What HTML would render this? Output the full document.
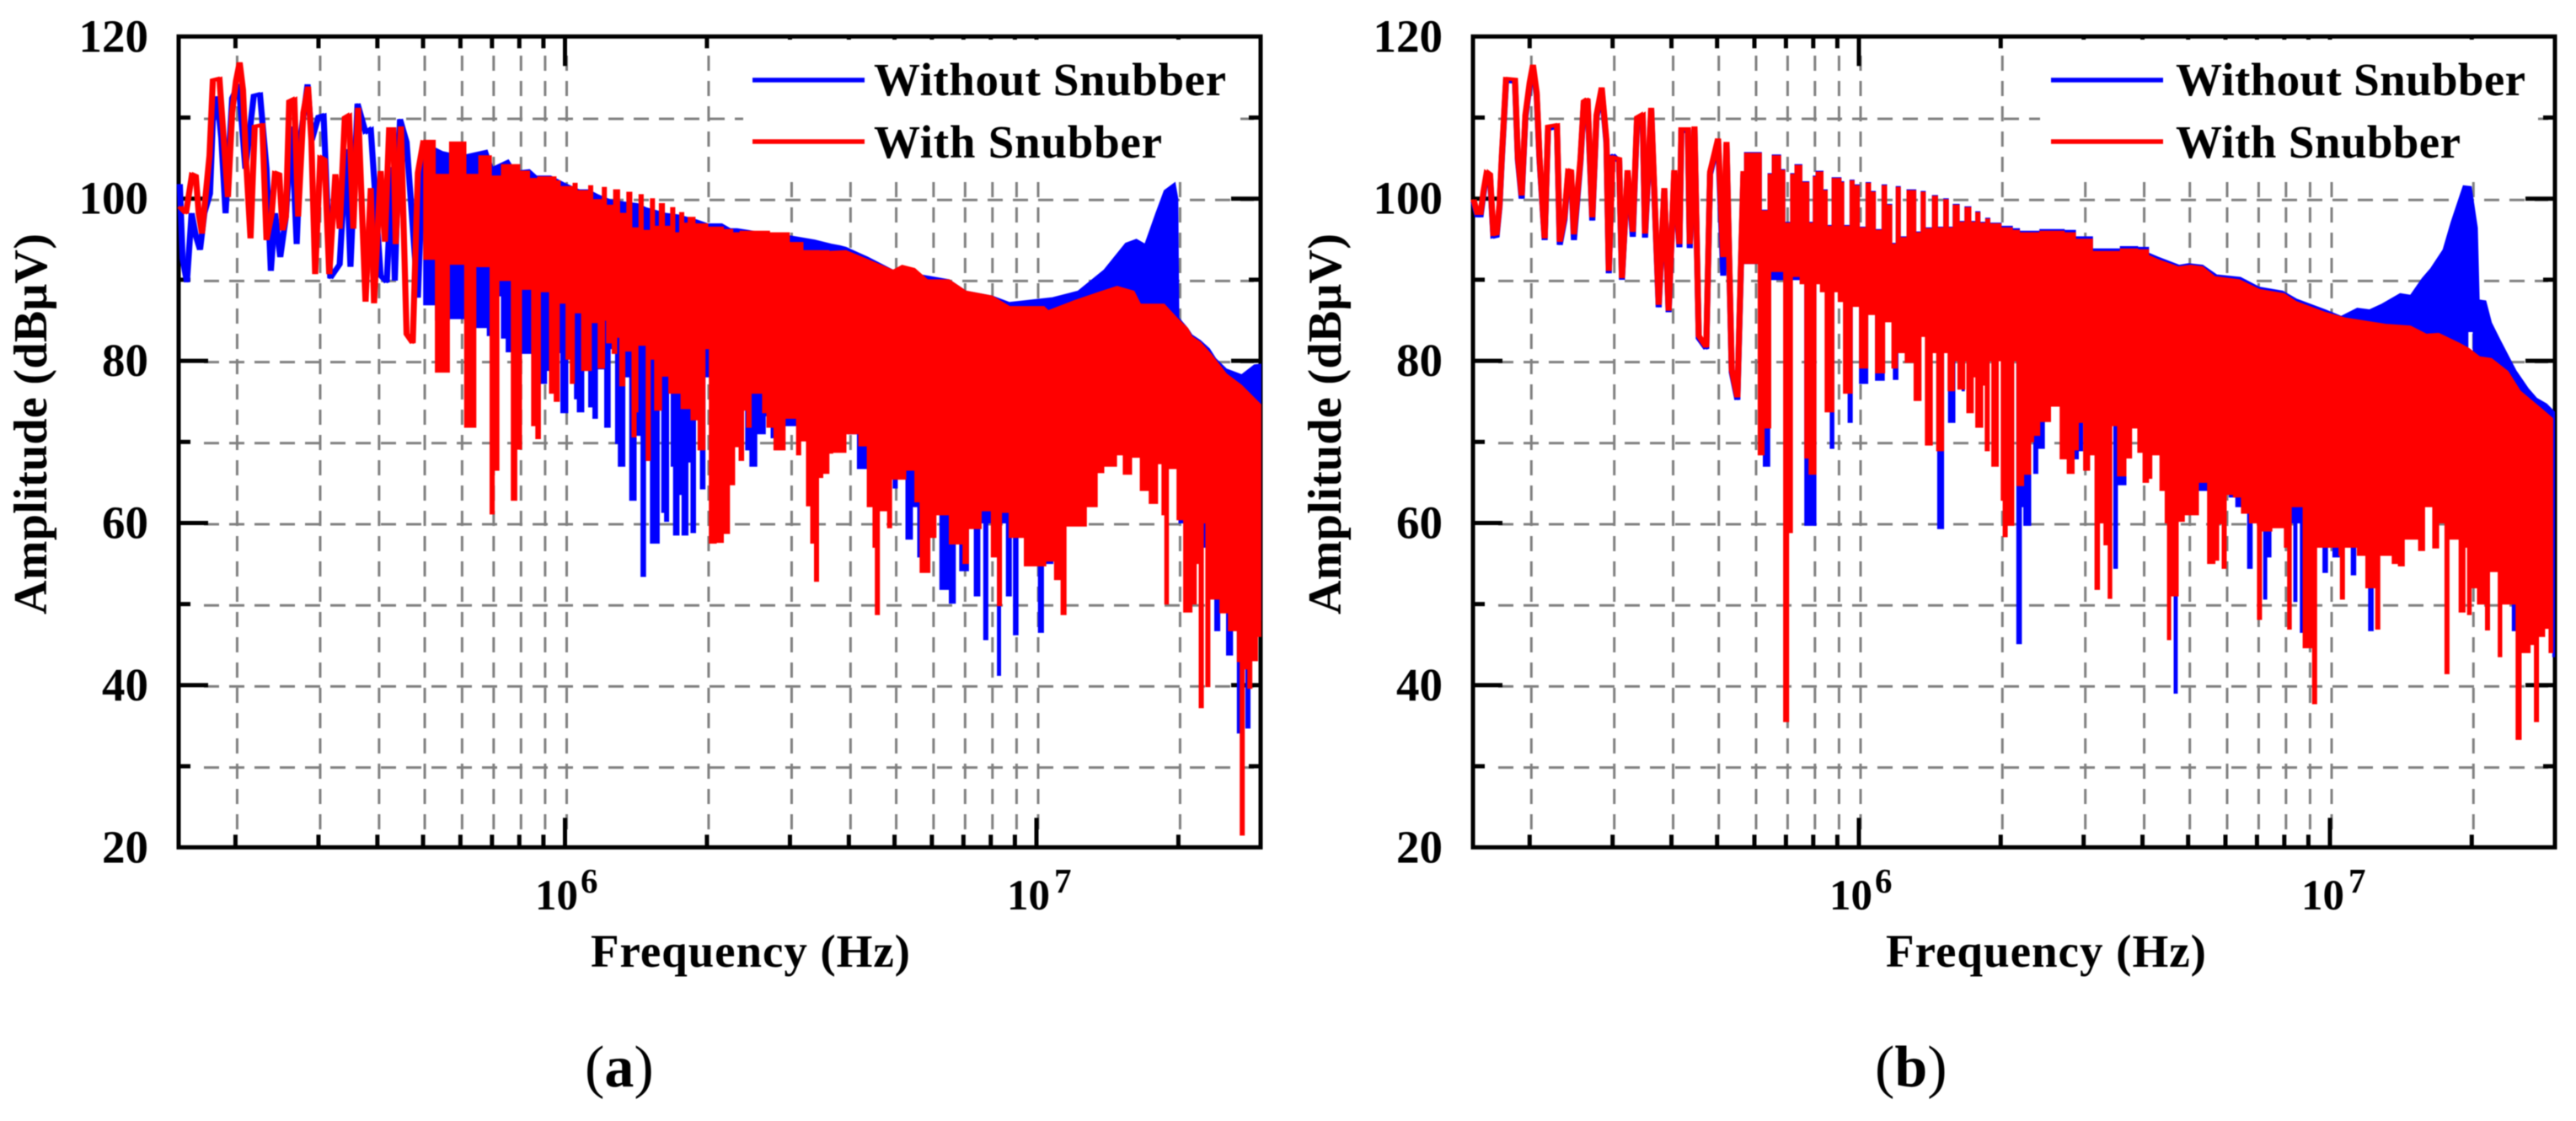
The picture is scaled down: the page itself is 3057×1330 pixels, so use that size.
<!DOCTYPE html>
<html lang="en">
<head>
<meta charset="utf-8">
<title>Amplitude spectra with and without snubber</title>
<style>
html,body{margin:0;padding:0;background:#fff;}
svg{display:block;filter:blur(0.6px);}
text{font-family:"Liberation Serif","Noto Serif CJK SC",serif;fill:#000;}
.b{font-weight:bold;}
</style>
</head>
<body>
<svg id="figure" xmlns="http://www.w3.org/2000/svg" width="3057" height="1330" viewBox="0 0 3057 1330">
  <rect x="0" y="0" width="3057" height="1330" fill="#fff"/>
  <g id="chart-a"></g>
  <g id="chart-b"></g>

  <g>
    <text class="b" x="55" y="503" font-size="56" textLength="452" lengthAdjust="spacing" text-anchor="middle" transform="rotate(-90 55 503)">Amplitude (dBμV)</text>
    <text class="b" x="701" y="1147" font-size="55" textLength="379" lengthAdjust="spacing">Frequency (Hz)</text>
    <text class="b" x="635" y="1079" font-size="51">10<tspan font-size="41" dx="3" dy="-20">6</tspan></text>
    <text class="b" x="1195" y="1079" font-size="51">10<tspan font-size="41" dx="5" dy="-20">7</tspan></text>
    <text x="694" y="1289" font-size="70">(<tspan class="b">a</tspan>)</text>
  </g>
  <g>
    <text class="b" x="1591" y="503" font-size="56" textLength="452" lengthAdjust="spacing" text-anchor="middle" transform="rotate(-90 1591 503)">Amplitude (dBμV)</text>
    <text class="b" x="2238" y="1147" font-size="55" textLength="380" lengthAdjust="spacing">Frequency (Hz)</text>
    <text class="b" x="2171" y="1079" font-size="51">10<tspan font-size="41" dx="3" dy="-20">6</tspan></text>
    <text class="b" x="2731" y="1079" font-size="51">10<tspan font-size="41" dx="5" dy="-20">7</tspan></text>
    <text x="2225" y="1289" font-size="70">(<tspan class="b">b</tspan>)</text>
  </g>
</svg>
<script>
/* Axis data */
const yTickValues = [120,110,100,90,80,70,60,50,40,30,20];
const yTickLabels = ['120','','100','','80','','60','','40','','20'];
const yGridValues = [110,100,90,80,70,60,50,40,30];
const xMajorFrequencies = [1e6,1e7];
const xMinorFrequencies = [2e5,3e5,4e5,5e5,6e5,7e5,8e5,9e5,2e6,3e6,4e6,5e6,6e6,7e6,8e6,9e6,2e7];
const legendLabels = ['Without Snubber','With Snubber'];

/* Series data: each pair is [log10 of frequency in Hz, amplitude in dBuV] */

/* Panel (a), without snubber */
const blueTraceA = [[5.183,101.8],[5.189,92.6],[5.198,89.7],[5.208,98.2],[5.217,95.4],[5.226,93.7],[5.235,98.2],[5.247,100.6],[5.253,109.6],[5.262,112.6],[5.271,107.5],[5.28,98.2],[5.294,112.4],[5.308,114.1],[5.322,103.7],[5.34,112.7],[5.353,112.9],[5.367,103.7],[5.376,91.1],[5.385,98.2],[5.396,92.8],[5.408,97.8],[5.42,108.9],[5.431,94.4],[5.44,107.9],[5.454,114.1],[5.463,107.2],[5.477,110.1],[5.488,110.3],[5.502,90.2],[5.522,91.9],[5.536,106.1],[5.545,91.6],[5.56,111.7],[5.577,108.2],[5.588,108.6],[5.609,90.5],[5.622,89.7],[5.633,103.9],[5.639,89.9],[5.65,109.8],[5.664,107],[5.688,87.8],[5.7,107]];
const blueTopA = [[5.7,107],[5.741,105.8],[5.78,105.3],[5.835,106],[5.847,103.9],[5.88,104.8],[5.895,103.4],[5.925,103.6],[5.94,102.8],[5.97,102.8],[6,101.9],[6.03,101.1],[6.05,101.1],[6.07,100.5],[6.095,99.9],[6.124,99.6],[6.154,99.4],[6.172,98.9],[6.196,98.5],[6.214,98.2],[6.24,98],[6.279,97.4],[6.303,96.9],[6.333,96.9],[6.351,96.3],[6.365,96.3],[6.399,96],[6.48,95.4],[6.53,94.9],[6.565,94.4],[6.583,94.2],[6.596,94],[6.642,92.8],[6.696,91.2],[6.815,90],[6.851,88.6],[6.906,88],[6.943,87.2],[7.034,87.8],[7.088,88.6],[7.143,91.2],[7.189,94.5],[7.212,95],[7.23,94.4],[7.253,98.2],[7.271,101],[7.294,102],[7.3,100],[7.302,85.3],[7.321,84],[7.33,83.2],[7.348,82.5],[7.367,81.5],[7.38,80.3],[7.403,79],[7.435,78.3],[7.462,79.5],[7.476,79.6]];
const blueBottomA = [[5.7,86.9],[5.725,85],[5.755,85.2],[5.787,85],[5.811,84.1],[5.835,83.1],[5.841,88],[5.865,82.8],[5.875,81.1],[5.886,85],[5.908,80.9],[5.929,82],[5.948,77.2],[5.961,78.8],[5.969,81],[5.991,73.6],[6.006,80.2],[6.02,75.3],[6.026,73.7],[6.04,78.8],[6.05,74.3],[6.059,72.9],[6.069,79],[6.084,71.8],[6.096,81.5],[6.107,69.8],[6.113,67],[6.127,78],[6.137,62.8],[6.151,70.8],[6.161,53.4],[6.171,67.7],[6.181,57.5],[6.2,78.8],[6.205,61.3],[6.211,60.2],[6.22,77.4],[6.225,67],[6.23,58.5],[6.242,63.5],[6.248,58.5],[6.261,67.5],[6.267,58.8],[6.277,74.6],[6.287,64.2],[6.297,78],[6.383,69],[6.392,67],[6.407,71],[6.425,73.2],[6.437,70.5],[6.446,72],[6.6,71],[6.62,66.7],[6.64,70],[6.696,64.3],[6.705,69],[6.723,58],[6.737,62],[6.748,55.8],[6.758,62],[6.778,62],[6.795,51.8],[6.815,50.1],[6.828,58],[6.837,54.1],[6.856,60],[6.868,51],[6.88,60],[6.888,45.6],[6.897,60],[6.917,41.2],[6.924,60],[6.936,51],[6.947,60],[6.951,46.2],[6.961,60],[6.992,56.6],[7.004,46.5],[7.015,55],[7.035,55.5],[7.047,72],[7.302,60],[7.336,57],[7.362,56],[7.378,46.7],[7.389,55],[7.403,43.7],[7.416,50],[7.426,34.1],[7.435,45],[7.444,34.7],[7.453,48]];

/* Panel (a), with snubber */
const redTraceA = [[5.183,99],[5.196,98.2],[5.209,103],[5.217,102.8],[5.223,98.2],[5.23,95.7],[5.238,100.6],[5.246,105.3],[5.253,114.6],[5.267,114.8],[5.276,107.5],[5.285,100.2],[5.294,110.6],[5.302,114.5],[5.31,116.8],[5.317,113.4],[5.323,105.3],[5.333,95.1],[5.342,108.9],[5.358,109.1],[5.367,94.9],[5.378,98.2],[5.385,103.2],[5.394,103],[5.401,96.1],[5.408,97.8],[5.415,112],[5.426,112.3],[5.434,97.8],[5.445,110.6],[5.455,113.8],[5.462,107.2],[5.47,90.7],[5.481,105.1],[5.49,104.8],[5.5,90.7],[5.513,103],[5.522,96.3],[5.533,110],[5.542,110.3],[5.551,96.3],[5.561,111.2],[5.577,87.3],[5.588,101.3],[5.595,87.1],[5.609,103.4],[5.618,94.7],[5.627,108.6],[5.636,108.6],[5.641,94.4],[5.652,108.9],[5.664,83.3],[5.677,82.2],[5.688,103.2],[5.7,107.2]];
const redTeethTopA = [[5.7,107.2],[5.725,103],[5.755,107],[5.79,103],[5.817,105.3],[5.844,102.8],[5.865,104.2],[5.904,103.4],[5.925,102.5],[5.942,102.7],[5.981,102.2],[5.99,101.5],[6.017,101.9],[6.026,101],[6.05,101.6],[6.059,99.9],[6.079,101.4],[6.088,99.2],[6.103,101.1],[6.116,98.2],[6.131,100.8],[6.142,96.4],[6.157,100.5],[6.166,96.1],[6.181,100],[6.19,96.6],[6.2,99.4],[6.211,96.6],[6.224,98.9],[6.233,95.8],[6.243,98.3],[6.252,97],[6.261,97.7],[6.276,96.9],[6.303,96.5],[6.336,96.2],[6.356,95.8],[6.371,96],[6.434,95.8],[6.476,94.6],[6.505,93.6],[6.56,93.5]];
const redTeethBottomA = [[5.7,92.5],[5.725,78.6],[5.755,91.9],[5.787,71.8],[5.811,91.6],[5.841,61.1],[5.85,66.5],[5.86,89.9],[5.886,62.8],[5.898,69.1],[5.908,88.8],[5.929,72],[5.938,70.4],[5.948,88.5],[5.967,76],[5.977,75],[5.988,87.1],[6.002,80.2],[6.011,77.2],[6.02,85.9],[6.035,78.8],[6.056,84.7],[6.07,79.1],[6.084,85],[6.088,82.2],[6.1,80.9],[6.11,82.9],[6.116,76.9],[6.127,81.2],[6.142,70.6],[6.151,73.7],[6.155,81.9],[6.172,67.7],[6.181,80.2],[6.19,73.9],[6.205,78.1],[6.22,76],[6.246,74.1],[6.267,72.7],[6.282,69],[6.297,81.5],[6.306,57.5],[6.321,57.6],[6.336,58.7],[6.349,64.7],[6.36,69.4],[6.369,67.7],[6.379,73.9],[6.385,71.8],[6.395,76],[6.419,73.6],[6.428,71.8],[6.443,69],[6.467,72.9],[6.491,68.4],[6.5,70.1],[6.512,62.1],[6.521,57.5],[6.529,52.8],[6.538,65.6],[6.547,66.1]];
const redTopA = [[6.56,93.5],[6.596,93.6],[6.642,92.5],[6.696,91.2],[6.715,91.8],[6.742,91.4],[6.769,90],[6.815,90],[6.851,88.6],[6.906,88],[6.943,86.7],[7.016,86.7],[7.025,86.2],[7.079,87.4],[7.134,88.5],[7.171,89.2],[7.207,88.6],[7.221,87],[7.271,87],[7.298,85.3],[7.321,84],[7.33,83],[7.348,82.3],[7.371,80.8],[7.403,78.4],[7.435,77],[7.476,74.6]];
const redBottomA = [[6.56,68.6],[6.568,68.7],[6.596,71],[6.623,69.5],[6.641,62],[6.653,57],[6.658,48.7],[6.667,61.5],[6.684,59.4],[6.693,65.4],[6.723,66.5],[6.742,62.6],[6.753,53.9],[6.774,58.2],[6.787,61],[6.815,57.4],[6.844,55],[6.856,59.3],[6.883,61.5],[6.904,55.8],[6.917,49.8],[6.926,61.3],[6.942,58.2],[6.974,54.7],[7.02,55.3],[7.038,53],[7.052,48.7],[7.063,59.6],[7.106,62],[7.129,66.2],[7.143,67],[7.17,68.4],[7.184,66],[7.202,68.1],[7.22,64],[7.239,62.4],[7.257,67.3],[7.266,61],[7.272,50],[7.28,66.7],[7.298,60.4],[7.312,49],[7.33,50],[7.339,55],[7.345,37.2],[7.354,60],[7.359,39.8],[7.368,50.6],[7.389,48.9],[7.407,46.7],[7.426,42.9],[7.432,21.5],[7.441,42],[7.448,39.6],[7.457,43],[7.469,46]];

/* Panel (b), without snubber */
const blueTraceB = [[5.182,99.6],[5.19,97.9],[5.197,97.9],[5.203,100.6],[5.21,103],[5.217,102.7],[5.224,95.3],[5.231,95.4],[5.237,99],[5.242,105],[5.251,114.5],[5.27,114.4],[5.276,104.8],[5.284,100],[5.292,110],[5.301,114],[5.308,116.2],[5.316,112.8],[5.322,104.8],[5.333,94.9],[5.34,108.6],[5.359,108.8],[5.365,94.3],[5.375,97.4],[5.383,103.2],[5.389,103.1],[5.395,94.9],[5.409,104.6],[5.416,111.7],[5.424,112],[5.434,97.3],[5.443,110],[5.454,113.4],[5.464,106.9],[5.469,90.8],[5.477,105.4],[5.491,104.6],[5.497,90],[5.509,103.2],[5.52,95.3],[5.529,109.7],[5.541,110.1],[5.546,95.2],[5.559,110.9],[5.575,86.6],[5.587,101],[5.596,86],[5.608,103.2],[5.619,94],[5.623,108.3],[5.637,108.3],[5.641,93.9],[5.651,108.6],[5.66,82.8],[5.676,81.5],[5.684,103],[5.701,107.1],[5.712,90.5],[5.719,106.7],[5.73,78.6],[5.742,75.2],[5.755,103.1]];
const blueTeethTopB = [[5.755,103.3],[5.757,105.7],[5.793,98.6],[5.807,103.1],[5.816,105.4],[5.834,103.6],[5.843,97.1],[5.855,103.1],[5.864,104.2],[5.879,102.1],[5.894,97.1],[5.903,102.8],[5.909,103.4],[5.924,101.1],[5.933,96.7],[5.943,102.6],[5.962,102.1],[5.968,96.7],[5.981,102.3],[5.99,101.7],[6.001,96.5],[6.015,102],[6.025,100.9],[6.035,96.2],[6.049,101.7],[6.059,99.3],[6.07,94.5],[6.079,101.5],[6.088,95.3],[6.102,101.1],[6.121,95.9],[6.132,100.9],[6.141,96.4],[6.156,100.4],[6.167,96.5],[6.18,100],[6.19,96.5],[6.2,99.3],[6.213,97.2],[6.225,99],[6.238,97.2],[6.248,98.4],[6.257,97.1],[6.269,97.6],[6.278,97],[6.302,96.6],[6.326,96.3],[6.341,96],[6.359,96],[6.384,96.2],[6.414,96.2],[6.436,96.1],[6.46,95.3],[6.496,93.8],[6.555,94.1],[6.592,94],[6.615,93.3]];
const blueTeethBottomB = [[5.755,92],[5.797,67],[5.811,90],[5.885,59.7],[5.909,90],[5.939,69.2],[5.947,90],[5.977,72.4],[5.986,88],[6.001,77.2],[6.019,88],[6.035,77.6],[6.054,88],[6.073,77.7],[6.083,88],[6.167,59.3],[6.18,85],[6.19,72.4],[6.204,85],[6.219,76.3],[6.224,85],[6.335,45.1],[6.345,62],[6.35,59.7],[6.365,85],[6.371,66.1],[6.38,69.2],[6.394,85],[6.457,67.9],[6.466,68.9],[6.475,85],[6.541,54.4],[6.549,64.7],[6.567,69],[6.577,85]];
const blueTopB = [[6.615,93.3],[6.635,92.8],[6.68,91.8],[6.7,92],[6.73,91.8],[6.76,90.6],[6.81,90.3],[6.85,89.1],[6.9,88.6],[6.93,87.6],[6.99,86.3],[7.024,85.5],[7.058,86.5],[7.084,86.3],[7.11,87],[7.149,88.3],[7.171,88.1],[7.196,90.2],[7.214,91.4],[7.24,93.7],[7.257,97.1],[7.283,101.6],[7.3,101.5],[7.313,96.4],[7.317,87.5],[7.331,87.4],[7.343,84.7],[7.361,82.6],[7.378,80.7],[7.395,78.8],[7.421,76.6],[7.439,75.4],[7.46,74.7],[7.477,73.7]];
const blueBottomB = [[6.615,69],[6.665,60],[6.669,39],[6.676,60.4],[6.69,62],[6.704,61.6],[6.72,64],[6.786,63.2],[6.8,62],[6.825,54.4],[6.835,60],[6.859,50.6],[6.866,55.8],[6.875,60],[6.923,50.3],[6.93,60],[6.937,46.5],[6.947,60],[6.985,53.9],[6.995,60],[7.006,55.8],[7.02,60],[7.045,53.6],[7.055,58],[7.082,46.7],[7.092,58],[7.127,61],[7.14,64],[7.293,83.6],[7.304,62],[7.387,46.7],[7.399,55],[7.421,46.7],[7.43,55],[7.473,43.5]];

/* Panel (b), with snubber */
const redTraceB = [[5.182,99.9],[5.19,98.2],[5.197,98.2],[5.203,100.9],[5.21,103.3],[5.217,103],[5.224,95.6],[5.231,95.7],[5.237,99.2],[5.242,105.3],[5.251,114.8],[5.27,114.7],[5.276,105.1],[5.284,100.4],[5.292,110.3],[5.301,114.3],[5.308,116.5],[5.316,113.1],[5.322,105.1],[5.333,95.1],[5.34,108.9],[5.359,109.1],[5.365,94.7],[5.375,97.8],[5.383,103.5],[5.389,103.4],[5.395,95.6],[5.409,104.9],[5.416,112],[5.424,112.3],[5.434,97.7],[5.443,110.3],[5.454,113.7],[5.464,107.2],[5.469,91.1],[5.477,105.1],[5.491,104.9],[5.497,90.2],[5.509,103.5],[5.52,95.9],[5.529,110],[5.541,110.4],[5.546,95.7],[5.559,111.2],[5.575,86.9],[5.587,101.3],[5.596,86.2],[5.608,103.5],[5.619,94.4],[5.623,108.6],[5.637,108.6],[5.641,94.4],[5.651,108.9],[5.66,83.1],[5.676,81.7],[5.684,103.3],[5.701,107.4],[5.712,92.8],[5.719,107],[5.73,78.9],[5.742,75.5],[5.755,103.4]];
const redTeethTopB = [[5.755,103.2],[5.757,105.6],[5.793,98.5],[5.807,103],[5.816,105.3],[5.834,103.5],[5.843,97],[5.855,103],[5.864,104.1],[5.879,102],[5.894,97],[5.903,102.7],[5.909,103.3],[5.924,101],[5.933,96.6],[5.943,102.5],[5.962,102],[5.968,96.6],[5.981,102.2],[5.99,101.6],[6.001,96.4],[6.015,101.9],[6.025,100.8],[6.035,96.1],[6.049,101.6],[6.059,99.2],[6.07,94.4],[6.079,101.4],[6.088,95.2],[6.102,101],[6.121,95.8],[6.132,100.8],[6.141,96.3],[6.156,100.3],[6.167,96.4],[6.18,99.9],[6.19,96.4],[6.2,99.2],[6.213,97.1],[6.225,98.9],[6.238,97.1],[6.248,98.3],[6.257,97],[6.269,97.5],[6.278,96.9],[6.302,96.4],[6.326,96.1],[6.341,95.8],[6.359,95.8],[6.384,96],[6.414,96],[6.436,95.8],[6.46,95],[6.496,93.5],[6.555,93.8],[6.592,93.7],[6.615,93]];
const redTeethBottomB = [[5.755,92],[5.786,68.4],[5.799,71.7],[5.813,91],[5.84,35.5],[5.851,58.8],[5.859,90.4],[5.875,89.5],[5.885,68],[5.894,66],[5.909,89.5],[5.918,88.5],[5.928,73.7],[5.947,88.5],[5.956,87.3],[5.967,76],[5.986,86.7],[6.001,79.1],[6.019,85.7],[6.035,78.5],[6.055,84.8],[6.07,79.1],[6.082,81],[6.098,79.8],[6.117,75.1],[6.132,83],[6.141,69.6],[6.156,81],[6.165,68.9],[6.18,81],[6.189,76.3],[6.203,80],[6.21,76.5],[6.225,80],[6.229,73.6],[6.243,78],[6.248,71.8],[6.263,77],[6.268,68.9],[6.277,80],[6.282,67],[6.296,80],[6.302,62.8],[6.306,58.3],[6.315,59.7],[6.329,80],[6.335,64.6],[6.35,66],[6.365,70],[6.371,70.8],[6.384,72.5],[6.407,74.4],[6.427,67.9],[6.442,66.1],[6.457,69],[6.466,72.4],[6.477,66.5],[6.49,68.4],[6.501,51.8],[6.511,60],[6.52,57.3],[6.529,50.7],[6.537,72],[6.549,65.8],[6.567,68],[6.579,71.7],[6.592,68.7],[6.603,65]];
const redTopB = [[6.615,93],[6.635,92.5],[6.678,91.6],[6.704,91.8],[6.73,91.6],[6.756,90.4],[6.808,90],[6.851,88.8],[6.903,88.3],[6.929,87.3],[6.989,86],[7.032,85.3],[7.119,84.5],[7.171,84.3],[7.205,83.3],[7.231,83.4],[7.274,82.2],[7.296,81.5],[7.318,80.5],[7.343,80.3],[7.378,78.7],[7.404,76.3],[7.447,74.2],[7.473,72.9]];
const redBottomB = [[6.615,65.5],[6.622,68.4],[6.639,64],[6.65,60],[6.655,45.6],[6.662,51],[6.678,60.2],[6.691,61],[6.721,65],[6.74,55],[6.756,55.4],[6.764,59.9],[6.771,54.4],[6.78,63.5],[6.795,63.2],[6.812,61.2],[6.829,60],[6.846,48.1],[6.855,59],[6.877,59.4],[6.903,57],[6.91,46.9],[6.918,62],[6.929,62],[6.943,44.6],[6.955,44.6],[6.963,37.7],[6.972,57],[7.019,56],[7.022,50.6],[7.031,57],[7.058,56],[7.076,52],[7.097,46.9],[7.106,56],[7.132,55],[7.145,54.7],[7.158,58],[7.188,56.6],[7.201,62],[7.218,56.9],[7.231,60],[7.244,41.4],[7.253,58],[7.274,49],[7.287,57],[7.292,48.7],[7.3,52],[7.313,50],[7.33,46.8],[7.339,54],[7.357,43.5],[7.365,50],[7.395,33.3],[7.406,44],[7.425,45],[7.434,35.5],[7.443,46],[7.456,47],[7.465,44]];

const SVG_NS = 'http://www.w3.org/2000/svg';
const Y_TOP = 43.3;
const PX_PER_DB = 9.62;

function make(tag, parent, attrs) {
  const el = document.createElementNS(SVG_NS, tag);
  for (const k in attrs) el.setAttribute(k, attrs[k]);
  parent.appendChild(el);
  return el;
}

function drawBand(group, xScale, yScale, top, bottom, color, name, stepTop) {
  let d = 'M' + xScale(top[0][0]).toFixed(1) + ' ' + yScale(top[0][1]).toFixed(1);
  for (let i = 1; i < top.length; i++) {
    if (stepTop) {
      d += 'H' + xScale(top[i][0]).toFixed(1);
      if (i < top.length - 1) d += 'V' + yScale(top[i][1]).toFixed(1);
    } else {
      d += 'L' + xScale(top[i][0]).toFixed(1) + ' ' + yScale(top[i][1]).toFixed(1);
    }
  }
  const endX = xScale(top[top.length - 1][0]);
  d += 'L' + endX.toFixed(1) + ' ' + yScale(bottom[bottom.length - 1][1]).toFixed(1);
  for (let i = bottom.length - 1; i >= 0; i--) {
    d += 'H' + xScale(bottom[i][0]).toFixed(1);
    if (i > 0) d += 'V' + yScale(bottom[i - 1][1]).toFixed(1);
  }
  d += 'Z';
  const band = make('path', group, {d: d, fill: color, stroke: color, 'stroke-width': 1, 'stroke-linejoin': 'miter'});
  
  
}

/* The source traces are wide horizontally and thin vertically, so each trace is drawn twice with a small sideways offset. */
function drawTrace(group, xScale, yScale, trace, color, name) {
  [-1.6, 1.6].forEach(offset => {
    const pts = trace.map(p => (xScale(p[0]) + offset).toFixed(1) + ',' + yScale(p[1]).toFixed(1)).join(' ');
    const line = make('polyline', group, {points: pts, fill: 'none', stroke: color, 'stroke-width': 4, 'stroke-linejoin': 'miter', 'stroke-miterlimit': 2});
    
    
  });
}

function drawPanel(cfg) {
  const group = document.getElementById(cfg.id);
  const xScale = logHz => cfg.x1e6 + (logHz - 6) * cfg.decade;
  const yScale = db => Y_TOP + (120 - db) * PX_PER_DB;
  const yBottom = yScale(20);

  /* frame */
  const frame = make('rect', group, {x: cfg.left, y: Y_TOP, width: cfg.right - cfg.left, height: yBottom - Y_TOP, fill: 'none', stroke: '#000', 'stroke-width': 5});
  
  

  /* grid */
  const gridFreqs = xMajorFrequencies.concat(xMinorFrequencies);
  gridFreqs.forEach(f => {
    const gx = xScale(Math.log10(f)) + 2;
    const gl = make('line', group, {x1: gx, x2: gx, y1: 66, y2: yBottom - 16, stroke: '#808080', 'stroke-width': 3, 'stroke-dasharray': '18 12'});
    
    
  });
  yGridValues.forEach(v => {
    const gy = yScale(v) + 1.5;
    const gl = make('line', group, {x1: cfg.left + 30, x2: cfg.right - 8, y1: gy, y2: gy, stroke: '#808080', 'stroke-width': 3, 'stroke-dasharray': '18 12'});
    
    
  });

  /* x ticks */
  xMajorFrequencies.forEach(f => {
    const tx = xScale(Math.log10(f));
    const t1 = make('line', group, {x1: tx, x2: tx, y1: yBottom, y2: yBottom - 35, stroke: '#000', 'stroke-width': 5});
    
    
    const t2 = make('line', group, {x1: tx, x2: tx, y1: Y_TOP, y2: Y_TOP + 35, stroke: '#000', 'stroke-width': 5});
    
    
  });
  xMinorFrequencies.forEach(f => {
    const tx = xScale(Math.log10(f));
    const t1 = make('line', group, {x1: tx, x2: tx, y1: yBottom, y2: yBottom - 15, stroke: '#000', 'stroke-width': 5});
    
    
    const t2 = make('line', group, {x1: tx, x2: tx, y1: Y_TOP, y2: Y_TOP + 14, stroke: '#000', 'stroke-width': 5});
    
    
  });

  /* y ticks and labels */
  yTickValues.forEach((v, i) => {
    const ty = yScale(v);
    const len = yTickLabels[i] ? 35 : 14;
    if (v !== 120 && v !== 20) {
      const t1 = make('line', group, {x1: cfg.left, x2: cfg.left + len, y1: ty, y2: ty, stroke: '#000', 'stroke-width': 5});
      
      
      const t2 = make('line', group, {x1: cfg.right, x2: cfg.right - len, y1: ty, y2: ty, stroke: '#000', 'stroke-width': 5});
      
      
    }
    if (yTickLabels[i]) {
      const lab = make('text', group, {x: cfg.left - 36, y: ty + 18, 'font-size': 55, 'font-weight': 'bold', 'text-anchor': 'end'});
      
      
      lab.textContent = yTickLabels[i];
    }
  });

  /* legend */
  const box = make('rect', group, {x: cfg.boxLeft, y: 47, width: cfg.boxRight - cfg.boxLeft, height: 166, fill: '#fff'});
  
  
  const blueKey = make('line', group, {x1: cfg.keyLeft, x2: cfg.keyRight, y1: 95, y2: 95, stroke: '#0000ff', 'stroke-width': 5.5});
  
  
  const redKey = make('line', group, {x1: cfg.keyLeft, x2: cfg.keyRight, y1: 168, y2: 168, stroke: '#ff0000', 'stroke-width': 5.5});
  
  
  const t1 = make('text', group, {x: cfg.textLeft, y: 113, 'font-size': 55, 'font-weight': 'bold', textLength: cfg.len1, lengthAdjust: 'spacing'});
  
  
  t1.textContent = legendLabels[0];
  const t2 = make('text', group, {x: cfg.textLeft, y: 187, 'font-size': 55, 'font-weight': 'bold', textLength: cfg.len2, lengthAdjust: 'spacing'});
  
  
  t2.textContent = legendLabels[1];

  /* series */
  const blueGroup = make('g', group, {});
  
  
  if (cfg.blueTeethTop) {
    drawBand(blueGroup, xScale, yScale, cfg.blueTeethTop, cfg.blueTeethBottom, '#0000ff', 'without-snubber-teeth', true);
  }
  drawBand(blueGroup, xScale, yScale, cfg.blueTop, cfg.blueBottom, '#0000ff', 'without-snubber-band', false);
  drawTrace(blueGroup, xScale, yScale, cfg.blueTrace, '#0000ff', 'without-snubber-low-frequency-trace');

  const redGroup = make('g', group, {});
  
  
  drawBand(redGroup, xScale, yScale, cfg.redTeethTop, cfg.redTeethBottom, '#ff0000', 'with-snubber-teeth', true);
  drawBand(redGroup, xScale, yScale, cfg.redTop, cfg.redBottom, '#ff0000', 'with-snubber-band', false);
  drawTrace(redGroup, xScale, yScale, cfg.redTrace, '#ff0000', 'with-snubber-low-frequency-trace');
}

drawPanel({id: 'chart-a', left: 212, right: 1496, x1e6: 670.5, decade: 559.5,
  boxLeft: 882, boxRight: 1468, keyLeft: 893, keyRight: 1026, textLeft: 1037, len1: 418, len2: 342,
  blueTrace: blueTraceA, blueTop: blueTopA, blueBottom: blueBottomA,
  redTrace: redTraceA, redTeethTop: redTeethTopA, redTeethBottom: redTeethBottomA, redTop: redTopA, redBottom: redBottomA});
drawPanel({id: 'chart-b', left: 1748, right: 3032, x1e6: 2206, decade: 559,
  boxLeft: 2421, boxRight: 3012, keyLeft: 2434, keyRight: 2567, textLeft: 2582, len1: 415, len2: 338,
  blueTrace: blueTraceB, blueTeethTop: blueTeethTopB, blueTeethBottom: blueTeethBottomB, blueTop: blueTopB, blueBottom: blueBottomB,
  redTrace: redTraceB, redTeethTop: redTeethTopB, redTeethBottom: redTeethBottomB, redTop: redTopB, redBottom: redBottomB});
</script>
</body>
</html>
